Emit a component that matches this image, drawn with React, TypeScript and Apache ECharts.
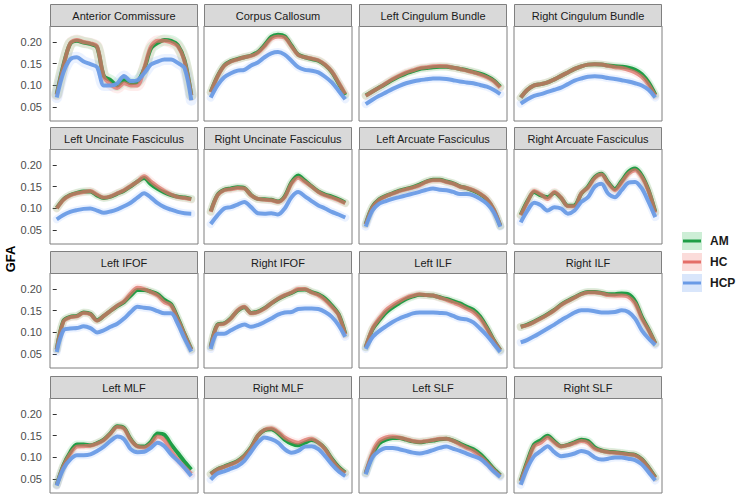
import React, { useEffect, useRef } from "react";
import * as echarts from "echarts";

// Node positions along each tract (0..100)
const NODES = [0, 5, 10, 15, 20, 25, 30, 35, 40, 45, 50, 55, 60, 65, 70, 75, 80, 85, 90, 95, 100];
const GROUPS = ["AM", "HC", "HCP"];
const Y_TICKS = [0.05, 0.1, 0.15, 0.2];

const TRACTS = [
  "Anterior Commissure", "Corpus Callosum", "Left Cingulum Bundle", "Right Cingulum Bundle",
  "Left Uncinate Fasciculus", "Right Uncinate Fasciculus", "Left Arcuate Fasciculus", "Right Arcuate Fasciculus",
  "Left IFOF", "Right IFOF", "Left ILF", "Right ILF",
  "Left MLF", "Right MLF", "Left SLF", "Right SLF",
];

const anteriorCommissure = {
  AM: [0.08, 0.147, 0.196, 0.203, 0.199, 0.196, 0.188, 0.122, 0.112, 0.1, 0.112, 0.105, 0.108, 0.138, 0.185, 0.198, 0.205, 0.203, 0.193, 0.158, 0.078],
  HC: [0.078, 0.145, 0.197, 0.205, 0.2, 0.197, 0.19, 0.12, 0.103, 0.094, 0.105, 0.1, 0.1, 0.14, 0.19, 0.203, 0.203, 0.199, 0.19, 0.155, 0.077],
  HCP: [0.072, 0.13, 0.16, 0.165, 0.155, 0.149, 0.142, 0.1, 0.1, 0.105, 0.122, 0.11, 0.112, 0.128, 0.148, 0.155, 0.16, 0.16, 0.152, 0.14, 0.066],
};
const corpusCallosum = {
  AM: [0.085, 0.121, 0.146, 0.156, 0.161, 0.165, 0.169, 0.177, 0.193, 0.212, 0.217, 0.213, 0.192, 0.171, 0.165, 0.161, 0.157, 0.147, 0.131, 0.105, 0.078],
  HC: [0.084, 0.12, 0.145, 0.155, 0.16, 0.165, 0.168, 0.175, 0.19, 0.208, 0.213, 0.21, 0.19, 0.17, 0.165, 0.162, 0.158, 0.148, 0.132, 0.107, 0.08],
  HCP: [0.072, 0.1, 0.119, 0.128, 0.134, 0.136, 0.146, 0.153, 0.165, 0.174, 0.177, 0.171, 0.157, 0.142, 0.136, 0.134, 0.13, 0.12, 0.107, 0.088, 0.068],
};
const leftCingulum = {
  AM: [0.077, 0.086, 0.095, 0.104, 0.113, 0.121, 0.128, 0.133, 0.138, 0.14, 0.142, 0.143, 0.143, 0.141, 0.138, 0.135, 0.131, 0.127, 0.121, 0.112, 0.097],
  HC: [0.076, 0.086, 0.095, 0.105, 0.115, 0.123, 0.13, 0.135, 0.14, 0.142, 0.144, 0.145, 0.144, 0.141, 0.138, 0.134, 0.13, 0.125, 0.119, 0.11, 0.095],
  HCP: [0.057, 0.067, 0.076, 0.084, 0.092, 0.099, 0.105, 0.109, 0.112, 0.114, 0.116, 0.116, 0.115, 0.112, 0.109, 0.107, 0.105, 0.101, 0.097, 0.09, 0.08],
};
const rightCingulum = {
  AM: [0.072, 0.09, 0.1, 0.103, 0.107, 0.114, 0.122, 0.13, 0.138, 0.144, 0.148, 0.149, 0.148, 0.146, 0.144, 0.143, 0.141, 0.136, 0.126, 0.107, 0.079],
  HC: [0.072, 0.09, 0.1, 0.103, 0.107, 0.114, 0.122, 0.13, 0.138, 0.144, 0.148, 0.149, 0.148, 0.145, 0.142, 0.14, 0.136, 0.13, 0.12, 0.102, 0.076],
  HCP: [0.058, 0.068, 0.076, 0.08, 0.085, 0.09, 0.095, 0.103, 0.111, 0.116, 0.12, 0.121, 0.12, 0.117, 0.115, 0.112, 0.109, 0.105, 0.1, 0.09, 0.072],
};
const leftUncinate = {
  AM: [0.101, 0.121, 0.131, 0.136, 0.139, 0.139, 0.13, 0.124, 0.127, 0.134, 0.141, 0.151, 0.162, 0.17, 0.156, 0.145, 0.137, 0.131, 0.127, 0.125, 0.122],
  HC: [0.1, 0.12, 0.13, 0.135, 0.138, 0.14, 0.132, 0.125, 0.128, 0.135, 0.142, 0.152, 0.162, 0.174, 0.162, 0.15, 0.14, 0.132, 0.126, 0.124, 0.121],
  HCP: [0.075, 0.085, 0.092, 0.096, 0.099, 0.1, 0.095, 0.09, 0.093, 0.098, 0.105, 0.113, 0.125, 0.135, 0.125, 0.112, 0.103, 0.097, 0.092, 0.089, 0.088],
};
const rightUncinate = {
  AM: [0.093, 0.131, 0.143, 0.146, 0.149, 0.147, 0.131, 0.122, 0.121, 0.12, 0.116, 0.128, 0.16, 0.176, 0.164, 0.151, 0.139, 0.132, 0.127, 0.121, 0.113],
  HC: [0.092, 0.13, 0.142, 0.144, 0.147, 0.146, 0.13, 0.122, 0.12, 0.119, 0.115, 0.126, 0.157, 0.171, 0.161, 0.15, 0.138, 0.13, 0.125, 0.119, 0.112],
  HCP: [0.064, 0.084, 0.1, 0.103, 0.109, 0.115, 0.103, 0.089, 0.088, 0.089, 0.086, 0.1, 0.126, 0.138, 0.128, 0.117, 0.107, 0.1, 0.092, 0.086, 0.079],
};
const leftArcuate = {
  AM: [0.064, 0.104, 0.121, 0.129, 0.135, 0.141, 0.145, 0.149, 0.155, 0.162, 0.166, 0.166, 0.162, 0.158, 0.151, 0.147, 0.141, 0.133, 0.121, 0.098, 0.06],
  HC: [0.063, 0.103, 0.12, 0.128, 0.134, 0.14, 0.144, 0.148, 0.153, 0.161, 0.165, 0.165, 0.161, 0.157, 0.15, 0.147, 0.142, 0.134, 0.122, 0.099, 0.06],
  HCP: [0.058, 0.095, 0.111, 0.117, 0.122, 0.126, 0.13, 0.134, 0.138, 0.143, 0.146, 0.143, 0.142, 0.138, 0.133, 0.133, 0.13, 0.122, 0.111, 0.092, 0.058],
};
const rightArcuate = {
  AM: [0.085, 0.117, 0.138, 0.13, 0.126, 0.136, 0.124, 0.106, 0.107, 0.134, 0.15, 0.172, 0.18, 0.16, 0.145, 0.163, 0.184, 0.192, 0.176, 0.142, 0.092],
  HC: [0.084, 0.115, 0.14, 0.132, 0.122, 0.138, 0.125, 0.105, 0.105, 0.135, 0.148, 0.17, 0.178, 0.158, 0.142, 0.16, 0.18, 0.188, 0.172, 0.14, 0.09],
  HCP: [0.068, 0.095, 0.113, 0.107, 0.095, 0.103, 0.1, 0.088, 0.095, 0.115, 0.126, 0.15, 0.157, 0.134, 0.126, 0.142, 0.159, 0.161, 0.146, 0.115, 0.08],
};
const leftIFOF = {
  AM: [0.061, 0.127, 0.136, 0.138, 0.146, 0.143, 0.128, 0.138, 0.15, 0.161, 0.17, 0.185, 0.198, 0.198, 0.194, 0.188, 0.175, 0.165, 0.133, 0.096, 0.061],
  HC: [0.06, 0.125, 0.135, 0.137, 0.145, 0.142, 0.127, 0.138, 0.15, 0.162, 0.172, 0.19, 0.203, 0.2, 0.193, 0.185, 0.17, 0.162, 0.13, 0.095, 0.06],
  HCP: [0.055, 0.105, 0.109, 0.11, 0.114, 0.11, 0.1, 0.105, 0.113, 0.12, 0.132, 0.147, 0.159, 0.157, 0.155, 0.149, 0.144, 0.144, 0.12, 0.086, 0.056],
};
const rightIFOF = {
  AM: [0.067, 0.118, 0.121, 0.133, 0.15, 0.158, 0.145, 0.148, 0.156, 0.167, 0.177, 0.185, 0.191, 0.198, 0.199, 0.193, 0.188, 0.178, 0.162, 0.142, 0.097],
  HC: [0.066, 0.117, 0.12, 0.132, 0.151, 0.159, 0.144, 0.147, 0.155, 0.167, 0.178, 0.186, 0.192, 0.2, 0.2, 0.192, 0.186, 0.175, 0.159, 0.14, 0.095],
  HCP: [0.062, 0.097, 0.097, 0.105, 0.113, 0.118, 0.113, 0.117, 0.124, 0.132, 0.141, 0.146, 0.147, 0.154, 0.155, 0.155, 0.154, 0.147, 0.136, 0.117, 0.09],
};
const leftILF = {
  AM: [0.066, 0.107, 0.128, 0.146, 0.158, 0.168, 0.177, 0.183, 0.187, 0.186, 0.185, 0.181, 0.177, 0.172, 0.167, 0.159, 0.152, 0.137, 0.112, 0.083, 0.059],
  HC: [0.066, 0.109, 0.132, 0.151, 0.163, 0.172, 0.18, 0.185, 0.188, 0.186, 0.185, 0.18, 0.175, 0.169, 0.163, 0.155, 0.147, 0.132, 0.109, 0.082, 0.059],
  HCP: [0.062, 0.089, 0.103, 0.114, 0.124, 0.132, 0.138, 0.144, 0.146, 0.146, 0.146, 0.145, 0.144, 0.138, 0.132, 0.13, 0.123, 0.109, 0.093, 0.074, 0.055],
};
const rightILF = {
  AM: [0.113, 0.118, 0.125, 0.133, 0.142, 0.152, 0.164, 0.173, 0.181, 0.189, 0.193, 0.193, 0.191, 0.188, 0.188, 0.19, 0.188, 0.172, 0.136, 0.107, 0.075],
  HC: [0.113, 0.117, 0.124, 0.132, 0.141, 0.151, 0.163, 0.172, 0.18, 0.188, 0.192, 0.192, 0.19, 0.186, 0.185, 0.185, 0.182, 0.167, 0.132, 0.105, 0.074],
  HCP: [0.077, 0.083, 0.091, 0.1, 0.109, 0.118, 0.128, 0.137, 0.146, 0.151, 0.151, 0.149, 0.146, 0.146, 0.147, 0.151, 0.147, 0.132, 0.105, 0.086, 0.071],
};
const leftMLF = {
  AM: [0.037, 0.082, 0.112, 0.13, 0.13, 0.128, 0.133, 0.141, 0.156, 0.172, 0.168, 0.142, 0.126, 0.125, 0.136, 0.155, 0.152, 0.13, 0.11, 0.09, 0.072],
  HC: [0.036, 0.08, 0.108, 0.125, 0.126, 0.127, 0.132, 0.14, 0.155, 0.17, 0.166, 0.14, 0.125, 0.123, 0.132, 0.148, 0.14, 0.115, 0.095, 0.078, 0.062],
  HCP: [0.035, 0.074, 0.095, 0.105, 0.105, 0.107, 0.115, 0.125, 0.138, 0.148, 0.142, 0.119, 0.112, 0.113, 0.122, 0.134, 0.126, 0.107, 0.092, 0.076, 0.057],
};
const rightMLF = {
  AM: [0.062, 0.073, 0.079, 0.085, 0.092, 0.104, 0.123, 0.15, 0.163, 0.165, 0.156, 0.141, 0.132, 0.128, 0.134, 0.14, 0.134, 0.12, 0.097, 0.078, 0.065],
  HC: [0.061, 0.072, 0.078, 0.084, 0.091, 0.103, 0.122, 0.15, 0.164, 0.167, 0.159, 0.146, 0.138, 0.134, 0.14, 0.143, 0.134, 0.119, 0.095, 0.076, 0.064],
  HCP: [0.049, 0.063, 0.068, 0.074, 0.08, 0.092, 0.113, 0.134, 0.146, 0.142, 0.134, 0.119, 0.111, 0.115, 0.125, 0.126, 0.119, 0.103, 0.084, 0.068, 0.057],
};
const leftSLF = {
  AM: [0.064, 0.106, 0.132, 0.141, 0.145, 0.145, 0.141, 0.137, 0.135, 0.137, 0.139, 0.142, 0.143, 0.139, 0.132, 0.125, 0.119, 0.108, 0.092, 0.074, 0.059],
  HC: [0.064, 0.111, 0.138, 0.146, 0.148, 0.146, 0.142, 0.138, 0.136, 0.138, 0.14, 0.143, 0.143, 0.138, 0.13, 0.122, 0.115, 0.103, 0.088, 0.072, 0.058],
  HCP: [0.061, 0.1, 0.115, 0.122, 0.122, 0.119, 0.115, 0.111, 0.109, 0.112, 0.117, 0.122, 0.125, 0.12, 0.115, 0.109, 0.103, 0.097, 0.084, 0.068, 0.055],
};
const rightSLF = {
  AM: [0.046, 0.092, 0.13, 0.14, 0.15, 0.137, 0.126, 0.129, 0.135, 0.141, 0.138, 0.123, 0.116, 0.113, 0.112, 0.11, 0.108, 0.106, 0.096, 0.077, 0.054],
  HC: [0.045, 0.088, 0.126, 0.134, 0.146, 0.134, 0.125, 0.128, 0.133, 0.138, 0.134, 0.12, 0.115, 0.112, 0.111, 0.109, 0.107, 0.105, 0.095, 0.076, 0.053],
  HCP: [0.037, 0.076, 0.103, 0.115, 0.126, 0.112, 0.103, 0.105, 0.109, 0.115, 0.111, 0.1, 0.095, 0.097, 0.1, 0.1, 0.097, 0.094, 0.084, 0.066, 0.047],
};

const PANEL_DATA = [
  anteriorCommissure, corpusCallosum, leftCingulum, rightCingulum,
  leftUncinate, rightUncinate, leftArcuate, rightArcuate,
  leftIFOF, rightIFOF, leftILF, rightILF,
  leftMLF, rightMLF, leftSLF, rightSLF,
];

// styles / layout
const COL_LEFT = [50, 204, 359, 514];
const ROW_TOP = [4, 127, 251, 376];
const PANEL_W = 148;
const STRIP_H = 22;
const PLOT_H = 95;
const FONT = "Liberation Sans, Arial, sans-serif";
const LINE_COLORS: Record<string, string> = { AM: "#1e9e46", HC: "#e46e68", HCP: "#6a9be6" };
const LINE_OPACITY: Record<string, number> = { AM: 1, HC: 0.72, HCP: 0.95 };
const RIBBON_COLORS: Record<string, string> = {
  AM: "rgba(0,186,56,0.13)",
  HC: "rgba(248,118,109,0.13)",
  HCP: "rgba(97,156,255,0.13)",
};
const LEGEND_FILL: Record<string, string> = { AM: "#cdeed6", HC: "#fbdcda", HCP: "#d9e6fb" };

export default function App() {
  const ref = useRef<HTMLDivElement>(null);
  useEffect(() => {
    if (!ref.current) return;
    const chart = echarts.init(ref.current, undefined, { renderer: "svg" });

    const grid: any[] = [];
    const xAxis: any[] = [];
    const yAxis: any[] = [];
    const series: any[] = [];
    const graphic: any[] = [];

    TRACTS.forEach((name, i) => {
      const row = Math.floor(i / 4);
      const col = i % 4;
      const left = COL_LEFT[col];
      const top = ROW_TOP[row];
      grid.push({
        left, top: top + STRIP_H, width: PANEL_W, height: PLOT_H,
        show: true, borderColor: "#7f7f7f", borderWidth: 1, backgroundColor: "#ffffff",
      });
      xAxis.push({ gridIndex: i, type: "value", min: -5, max: 105, show: false });
      yAxis.push({
        gridIndex: i, type: "value", min: 0.018, max: 0.237,
        axisLine: { show: false },
        splitLine: { show: false },
        axisTick: {
          show: col === 0, length: 4, customValues: Y_TICKS,
          lineStyle: { color: "#333333", width: 1 },
        },
        axisLabel: {
          show: col === 0, customValues: Y_TICKS, margin: 8,
          color: "#4d4d4d", fontSize: 11, fontFamily: FONT,
          formatter: (v: number) => v.toFixed(2),
        },
      });
      const d: any = PANEL_DATA[i];
      GROUPS.forEach((g) => {
        const pts = NODES.map((x, k) => [x, d[g][k]]);
        series.push({
          type: "line", xAxisIndex: i, yAxisIndex: i, data: pts,
          smooth: 0.3, symbol: "none", silent: true, z: 1,
          lineStyle: { width: i === 0 ? 11 : 8, color: RIBBON_COLORS[g], cap: "round", join: "round" },
        });
      });
      GROUPS.forEach((g) => {
        const pts = NODES.map((x, k) => [x, d[g][k]]);
        series.push({
          type: "line", name: g, xAxisIndex: i, yAxisIndex: i, data: pts,
          smooth: 0.3, symbol: "none", silent: true, z: 2,
          lineStyle: { width: 4, color: LINE_COLORS[g], opacity: LINE_OPACITY[g], join: "round" },
        });
      });
      graphic.push({
        type: "rect", silent: true,
        shape: { x: left + 0.5, y: top + 0.5, width: PANEL_W - 1, height: STRIP_H },
        style: { fill: "#d9d9d9", stroke: "#7f7f7f", lineWidth: 1 },
      });
      graphic.push({
        type: "text", silent: true, x: left + PANEL_W / 2, y: top + STRIP_H / 2 + 1,
        style: { text: name, fill: "#1a1a1a", font: `11px ${FONT}`, align: "center", verticalAlign: "middle" },
      });
    });

    // y axis title
    graphic.push({
      type: "text", silent: true, x: 10, y: 259, rotation: Math.PI / 2,
      style: { text: "GFA", fill: "#000000", font: `bold 13px ${FONT}`, align: "center", verticalAlign: "middle" },
    });

    // legend
    const LEG_Y = [241, 262, 283];
    GROUPS.forEach((g, k) => {
      const cy = LEG_Y[k];
      graphic.push({
        type: "rect", silent: true,
        shape: { x: 682, y: cy - 9, width: 20, height: 18 },
        style: { fill: LEGEND_FILL[g] },
      });
      graphic.push({
        type: "line", silent: true,
        shape: { x1: 683, y1: cy, x2: 701, y2: cy },
        style: { stroke: LINE_COLORS[g], lineWidth: 3 },
      });
      graphic.push({
        type: "text", silent: true, x: 710, y: cy,
        style: { text: g, fill: "#1a1a1a", font: `bold 12px ${FONT}`, align: "left", verticalAlign: "middle" },
      });
    });

    chart.setOption({
      animation: false,
      backgroundColor: "#ffffff",
      textStyle: { fontFamily: FONT },
      grid, xAxis, yAxis, series, graphic,
    });
    return () => chart.dispose();
  }, []);
  return (
    <div
      ref={ref}
      style={{ position: "absolute", left: 0, top: 0, width: 740, height: 496, background: "#fff" }}
    />
  );
}
